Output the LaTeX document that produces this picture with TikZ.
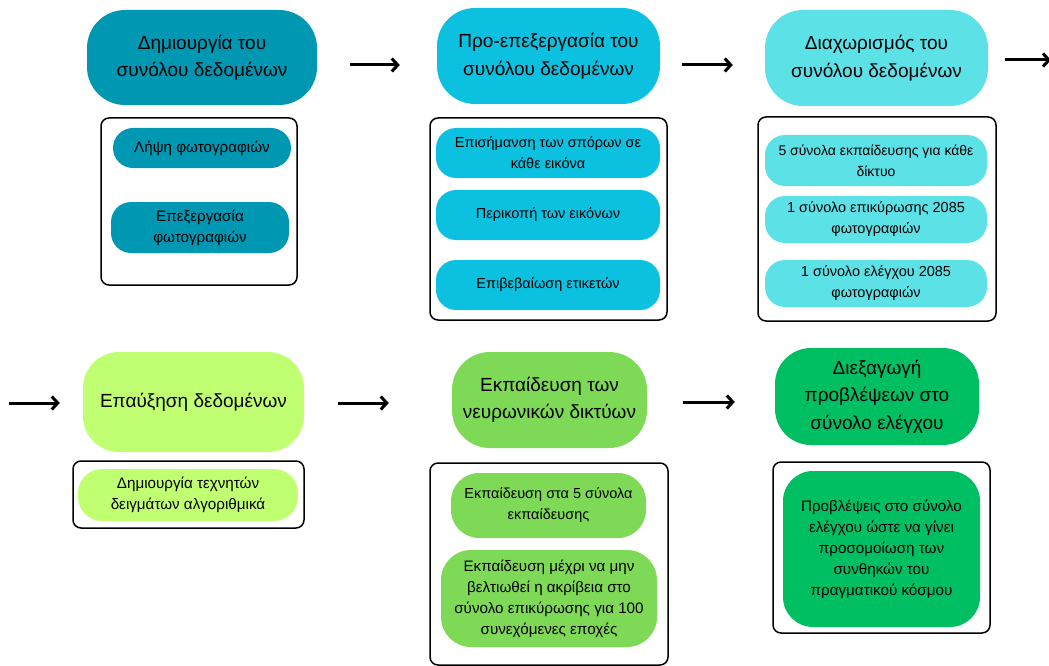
\documentclass[tikz,border=0pt]{standalone}
\usepackage{fontspec}
\setmainfont{Liberation Sans}
\usetikzlibrary{arrows.meta}
\definecolor{tealA}{HTML}{0097B2}
\definecolor{cyanB}{HTML}{0CC0DF}
\definecolor{cyanC}{HTML}{5CE1E6}
\definecolor{limeD}{HTML}{C1FF72}
\definecolor{greenE}{HTML}{7ED957}
\definecolor{greenF}{HTML}{00BF63}
\tikzset{>={Straight Barb[length=6pt,width=13pt]}}
\tikzset{
  head/.style = {rounded corners=38pt, align=center, inner sep=0pt, font=\fontsize{19}{27.5}\selectfont},
  task/.style = {rounded corners=20pt, align=center, inner sep=0pt, font=\fontsize{14.5}{21}\selectfont},
  bigtask/.style = {task, font=\fontsize{15.2}{21}\selectfont},
  group/.style = {draw=black, line width=1.5pt, rounded corners=8pt},
  flow/.style = {->, line width=3pt}
}

\begin{document}
\begin{tikzpicture}[x=1pt,y=-1pt]
  \useasboundingbox (0,0) rectangle (1049,666);
  % creation of the dataset
  \node[head, fill=tealA, minimum width=230, minimum height=95] (dim) at (202,57.5) {Δημιουργία του\\συνόλου δεδομένων};
  \node[group, minimum width=196, minimum height=167] (dimbox) at (199,201.5) {};
  \node[bigtask, fill=tealA, minimum width=178, minimum height=40] (dim1) at (202,148) {Λήψη φωτογραφιών};
  \node[bigtask, fill=tealA, minimum width=178, minimum height=51] (dim2) at (200,227.5) {Επεξεργασία\\φωτογραφιών};
  % pre-processing
  \node[head, fill=cyanB, minimum width=223, minimum height=96] (pro) at (548.5,56) {Προ-επεξεργασία του\\συνόλου δεδομένων};
  \node[group, minimum width=237, minimum height=202] (probox) at (548.5,219) {};
  \node[task, fill=cyanB, minimum width=224, minimum height=50] (pro1) at (548,153) {Επισήμανση των σπόρων σε\\κάθε εικόνα};
  \node[task, fill=cyanB, minimum width=224, minimum height=50] (pro2) at (548,215) {Περικοπή των εικόνων};
  \node[task, fill=cyanB, minimum width=224, minimum height=50] (pro3) at (548,285) {Επιβεβαίωση ετικετών};
  % splitting
  \node[head, fill=cyanC, minimum width=223, minimum height=96] (split) at (876.5,58) {Διαχωρισμός του\\συνόλου δεδομένων};
  \node[group, minimum width=238, minimum height=204] (splitbox) at (877,219) {};
  \node[task, fill=cyanC, font=\fontsize{14}{21}\selectfont, minimum width=222, minimum height=51] (split1) at (876,160.5) {5 σύνολα εκπαίδευσης για κάθε\\δίκτυο};
  \node[task, fill=cyanC, minimum width=222, minimum height=47] (split2) at (876,219.5) {1 σύνολο επικύρωσης 2085\\φωτογραφιών};
  \node[task, fill=cyanC, minimum width=222, minimum height=47] (split3) at (876,283.5) {1 σύνολο ελέγχου 2085\\φωτογραφιών};
  % augmentation
  \node[head, fill=limeD, rounded corners=36pt, minimum width=221, minimum height=100] (aug) at (193.5,402) {Επαύξηση δεδομένων};
  \node[group, minimum width=231, minimum height=67] (augbox) at (188.5,494.5) {};
  \node[bigtask, fill=limeD, rounded corners=24pt, minimum width=220, minimum height=52] (aug1) at (188,495) {Δημιουργία τεχνητών\\δειγμάτων αλγοριθμικά};
  % training
  \node[head, fill=greenE, minimum width=195, minimum height=96] (train) at (549.5,400) {Εκπαίδευση των\\νευρωνικών δικτύων};
  \node[group, minimum width=238, minimum height=202] (trainbox) at (549,564) {};
  \node[task, fill=greenE, rounded corners=28pt, minimum width=195, minimum height=65] (train1) at (548.5,505.5) {Εκπαίδευση στα 5 σύνολα\\εκπαίδευσης};
  \node[bigtask, fill=greenE, rounded corners=30pt, minimum width=216, minimum height=97] (train2) at (549,598.5) {Εκπαίδευση μέχρι να μην\\βελτιωθεί η ακρίβεια στο\\σύνολο επικύρωσης για 100\\συνεχόμενες εποχές};
  % predictions
  \node[head, fill=greenF, rounded corners=36pt, minimum width=204, minimum height=97] (pred) at (877,396.5) {Διεξαγωγή\\προβλέψεων στο\\σύνολο ελέγχου};
  \node[group, minimum width=217, minimum height=171] (predbox) at (881.5,547.5) {};
  \node[bigtask, fill=greenF, rounded corners=30pt, minimum width=197, minimum height=156] (pred1) at (881.5,549) {Προβλέψεις στο σύνολο\\ελέγχου ώστε να γίνει\\προσομοίωση των\\συνθηκών του\\πραγματικού κόσμου};
  % arrows
  \coordinate (next) at (1051,60);
  \coordinate (prev) at (9,403);
  \draw[flow] ([shift={(33,7.5)}]dim.east) -- ([shift={(-37,9)}]pro.west);
  \draw[flow] ([shift={(22,9)}]pro.east) -- ([shift={(-32,7)}]split.west);
  \draw[flow] ([shift={(17,2)}]split.east) -- (next);
  \draw[flow] (prev) -- ([shift={(-23,1)}]aug.west);
  \draw[flow] ([shift={(34,1)}]aug.east) -- ([shift={(-63,3)}]train.west);
  \draw[flow] ([shift={(36,2)}]train.east) -- ([shift={(-40,5.5)}]pred.west);
\end{tikzpicture}
\end{document}
